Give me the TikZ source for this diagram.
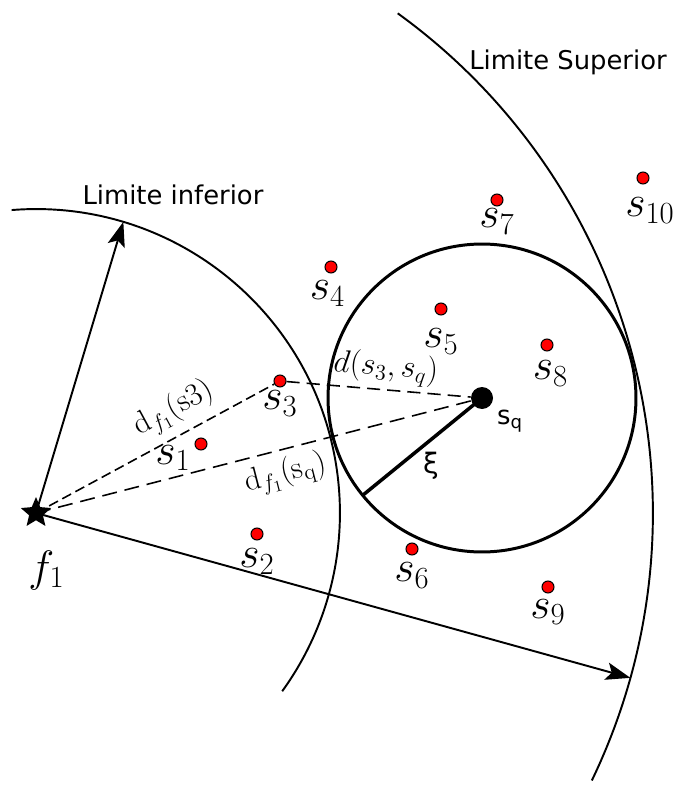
\RequirePackage{fix-cm}
\documentclass[tikz,border=0pt]{standalone}
\usepackage{amsmath}
\usepackage{fontspec}
\setsansfont{DejaVu Sans}
\usetikzlibrary{positioning,shapes.geometric,arrows.meta}

\begin{document}
\begin{tikzpicture}[
    x=0.02cm, y=0.02cm,
    node distance=4pt,
    spot/.style={circle, draw, fill=red, inner sep=0pt, minimum size=0.24cm, line width=0.6pt},
    slbl/.style={inner sep=0pt, font=\fontsize{25}{30}\selectfont},
    dlbl/.style={inner sep=1pt, font=\fontsize{18}{21}\selectfont},
    sans/.style={inner sep=0pt, font=\sffamily\fontsize{14.7}{17}\selectfont},
    bound/.style={line width=1.1pt},
    arrow/.style={-{Stealth[length=14pt, width=10pt, inset=3pt]}, line width=1.1pt},
    dist/.style={dashed, line width=0.9pt}
]
    \useasboundingbox (0,0) rectangle (678,-787);

    % source and query
    \node[star, star points=5, star point ratio=2.2, fill=black, inner sep=0pt, minimum size=0.64cm] (f1) at (36,-513) {};
    \node[slbl, below=17pt of f1, xshift=6pt] (f1l) {$f_1$};
    \node[circle, fill=black, inner sep=0pt, minimum size=0.44cm] (sq) at (482,-398) {};
    \node[sans] (sql) at (510,-421) {s\textsubscript{q}};

    % limits
    \draw[bound] (f1.center) ++(94.6:6.08cm) arc[start angle=94.6, end angle=-35.9, radius=6.08cm];
    \draw[bound] (f1.center) ++(54.1:12.34cm) arc[start angle=54.1, end angle=-25.7, radius=12.34cm];
    \path (f1.center) ++(73.3:6.08cm) coordinate (inftip);
    \path (f1.center) ++(-15.5:12.34cm) coordinate (suptip);
    \node[sans] (liminf) at (173,-195) {Limite inferior};
    \node[sans] (limsup) at (568,-62) {Limite Superior};

    % search radius
    \draw[line width=1.7pt] (sq.center) circle[radius=3.08cm];
    \path (sq.center) ++(219.2:3.08cm) coordinate (xiend);
    \draw[line width=2pt] (sq.center) -- (xiend);
    \node[sans, font=\sffamily\fontsize{16}{19}\selectfont] (xi) at (431,-466) {ξ};

    % points
    \node[spot] (s1)  at (201,-444) {};
    \node[spot] (s2)  at (257,-534) {};
    \node[spot] (s3)  at (280,-381) {};
    \node[spot] (s4)  at (331,-267) {};
    \node[spot] (s5)  at (441,-309) {};
    \node[spot] (s6)  at (412,-549) {};
    \node[spot] (s7)  at (497,-200) {};
    \node[spot] (s8)  at (547,-345) {};
    \node[spot] (s9)  at (548,-587) {};
    \node[spot] (s10) at (643,-178) {};
    \node[slbl, left=2pt of s1, yshift=-8pt] (s1l) {$s_1$};
    \node[slbl, below=4.5pt of s2] (s2l) {$s_2$};
    \node[slbl, below=1.7pt of s3] (s3l) {$s_3$};
    \node[slbl, below=4pt of s4, xshift=-2pt] (s4l) {$s_4$};
    \node[slbl, below=7.4pt of s5] (s5l) {$s_5$};
    \node[slbl, below=4pt of s6] (s6l) {$s_6$};
    \node[slbl, below=1pt of s7] (s7l) {$s_7$};
    \node[slbl, below=5pt of s8, xshift=2pt] (s8l) {$s_8$};
    \node[slbl, below=3pt of s9] (s9l) {$s_9$};
    \node[slbl, below=7.4pt of s10, xshift=4pt] (s10l) {$s_{10}$};

    % distances
    \draw[dist, dash pattern=on 5.7pt off 2.8pt] (f1.center) -- node[dlbl, sloped, above=4pt, pos=0.63] (df3) {$\mathrm{d}_{f_1}(\mathrm{s}3)$} (s3);
    \draw[dist, dash pattern=on 8.5pt off 4.5pt] (f1.center) -- node[dlbl, sloped, below=3pt, pos=0.56] (dfq) {$\mathrm{d}_{f_1}(\mathrm{s}_\mathrm{q})$} (sq);
    \draw[dist, dash pattern=on 7.5pt off 4pt] (s3) -- node[dlbl, sloped, above=1.5pt, pos=0.53] (d3q) {$d(s_3,s_q)$} (sq);
    \draw[arrow] (f1.center) -- (inftip);
    \draw[arrow] (f1.center) -- (suptip);
\end{tikzpicture}
\end{document}
